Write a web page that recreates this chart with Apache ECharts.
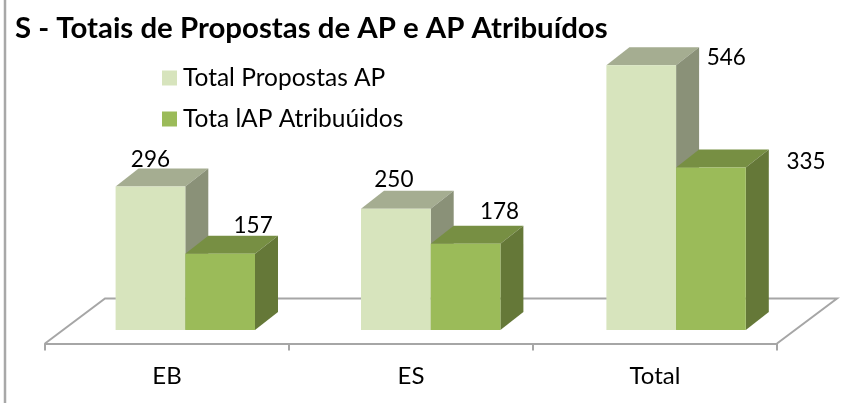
<!DOCTYPE html>
<html>
<head>
<meta charset="utf-8">
<style>
html,body{margin:0;padding:0;background:#fff;}
#main{width:867px;height:403px;}
</style>
<script src="https://cdn.jsdelivr.net/npm/echarts@6/dist/echarts.min.js"></script>
</head>
<body>
<div id="main"></div>
<script>
var categories = ['EB', 'ES', 'Total'];
var propostas = [296, 250, 546];
var atribuidos = [157, 178, 335];

// layout of the fake 3d look
var barW = 69.7;
var depthX = 23;
var depthY = 18;
var floorX = 60;
var floorY = 45;
var baseDrop = 13.5;
var baseShift = 18.3;
var spread = 1.4; // bar groups sit slightly wider apart than the ticks
var fontName = 'Lato';

// where each value label sits, relative to the top middle of the front face
var shiftPropostas = [[0, -27], [-2, -29], [85, -7]];
var shiftAtribuidos = [[33, -28], [34, -32], [95, -6]];

function barSeries(name, values, side, shifts, front, top, right) {
	return {
		type: 'custom',
		name: name,
		silent: true,
		itemStyle: {color: front},
		data: values.map(function (v, i) { return [i, v]; }),
		encode: {x: 0, y: 1},
		renderItem: function (params, api) {
			var i = api.value(0);
			var t = api.coord([i, api.value(1)]);
			var b = api.coord([i, 0]);
			var x0 = t[0] + baseShift + i * spread + (side == 0 ? -barW : 0);
			var x1 = x0 + barW;
			var s = shifts[i];
			return {
				type: 'group',
				children: [
					{type: 'polygon', shape: {points: [[x0, t[1]], [x1, t[1]], [x1 + depthX, t[1] - depthY], [x0 + depthX, t[1] - depthY]]}, style: {fill: top}},
					{type: 'polygon', shape: {points: [[x1, t[1]], [x1 + depthX, t[1] - depthY], [x1 + depthX, b[1] - depthY], [x1, b[1]]]}, style: {fill: right}},
					{type: 'rect', shape: {x: x0, y: t[1], width: barW, height: b[1] - t[1]}, style: {fill: front}},
					{type: 'text', x: (x0 + x1) / 2 + s[0], y: t[1] + s[1], style: {
						text: String(api.value(1)), fill: '#000', font: '22.5px ' + fontName, align: 'center', verticalAlign: 'middle'
					}}
				]
			};
		}
	};
}

var floorSeries = {
	type: 'custom',
	name: 'floor',
	silent: true,
	data: [[0, 0]],
	encode: {x: 0, y: 1},
	renderItem: function (params) {
		var g = params.coordSys;
		var frontY = g.y + g.height + baseDrop;
		var x0 = g.x;
		var x1 = g.x + g.width;
		return {
			type: 'polyline',
			shape: {points: [[x0, frontY], [x0 + floorX, frontY - floorY], [x1 + floorX, frontY - floorY], [x1, frontY]]},
			style: {fill: null, stroke: '#a6a6a6', lineWidth: 2}
		};
	}
};

var chart = echarts.init(document.getElementById('main'), null, {renderer: 'canvas'});
chart.setOption({
	animation: false,
	backgroundColor: '#fff',
	title: {
		text: 'S - Totais de Propostas de AP e AP Atribuídos',
		left: 10,
		top: 9,
		textStyle: {fontFamily: fontName, fontSize: 29.4, fontWeight: 'bold', color: '#000'}
	},
	legend: {
		data: [
			{name: 'Total Propostas AP', icon: 'rect'},
			{name: 'Tota lAP Atribuúidos', icon: 'rect'}
		],
		orient: 'vertical',
		left: 157,
		top: 53,
		itemWidth: 15,
		itemHeight: 15,
		itemGap: 1,
		selectedMode: false,
		textStyle: {fontFamily: fontName, fontSize: 24.5, color: '#000', lineHeight: 40, padding: [0, 0, 0, 1]}
	},
	grid: {left: 45, width: 732, top: 39, bottom: 73},
	xAxis: {
		type: 'category',
		data: categories,
		offset: baseDrop,
		axisLine: {onZero: false, lineStyle: {color: '#a6a6a6', width: 2}},
		axisTick: {show: true, length: 7, lineStyle: {color: '#a6a6a6', width: 2}},
		axisLabel: {color: '#000', fontFamily: fontName, fontSize: 24, margin: 21}
	},
	yAxis: {type: 'value', min: 0, max: 600, show: false},
	graphic: [{
		type: 'line',
		shape: {x1: 5, y1: 0, x2: 5, y2: 403},
		style: {stroke: '#a8a8a8', lineWidth: 2.5}
	}],
	series: [
		floorSeries,
		barSeries('Total Propostas AP', propostas, 0, shiftPropostas, '#d7e4bd', '#a5ad91', '#8a9178'),
		barSeries('Tota lAP Atribuúidos', atribuidos, 1, shiftAtribuidos, '#9bbb59', '#778f43', '#657838')
	]
});
</script>
</body>
</html>
